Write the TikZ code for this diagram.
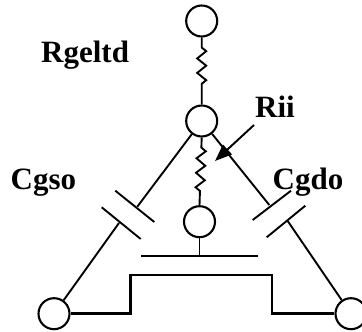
\documentclass[tikz,border=0pt]{standalone}
\usepackage{fontspec}
\setmainfont{Liberation Serif}
\usetikzlibrary{decorations.pathmorphing,arrows.meta}
\tikzset{
  term/.style={circle,draw,line width=2.1pt,minimum size=31pt,inner sep=0pt,fill=white},
  wire/.style={line width=1.9pt},
  plate/.style={line width=1.9pt},
  channel/.style={line width=2.5pt},
  res/.style={line width=1.9pt,decorate,decoration={zigzag,amplitude=4.5pt,segment length=14.5pt,pre length=10pt,post length=14pt}},
  lbl/.style={font=\bfseries\fontsize{31}{31}\selectfont,inner sep=0pt,anchor=base west}
}
\begin{document}
\begin{tikzpicture}[x=1pt,y=-1pt]
\useasboundingbox (0,0) rectangle (362,332);
\clip (0,0) rectangle (362,332);
% terminals
\node[term] (top) at (201.7,21) {};
\node[term] (mid) at (201.7,121) {};
\node[term] (gate) at (199.5,221.7) {};
\node[term] (src) at (54,313.7) {};
\node[term] (drn) at (351,313.7) {};
% plates
\coordinate (p1a) at (101.7,207.3); \coordinate (p1b) at (140.7,239);
\coordinate (p2a) at (115.3,190.7); \coordinate (p2b) at (154.3,222);
\coordinate (p3a) at (252.7,220); \coordinate (p3b) at (291,190.7);
\coordinate (p4a) at (266.7,237.3); \coordinate (p4b) at (305.3,205.7);
\coordinate (sl) at (119,223); \coordinate (su) at (137.3,206.7);
\coordinate (du) at (269.3,205); \coordinate (dl) at (287.7,221);
\draw[plate] (p1a) -- (p1b);
\draw[plate] (p2a) -- (p2b);
\draw[plate] (p3a) -- (p3b);
\draw[plate] (p4a) -- (p4b);
\draw[wire] (mid) -- (su);
\draw[wire] (sl) -- (src);
\draw[wire] (mid) -- (du);
\draw[wire] (dl) -- (drn);
% resistors
\draw[res] (top.south) -- (mid.north);
\draw[res] (mid.south) -- (gate.north);
% gate
\coordinate (gl) at (141.3,256); \coordinate (gr) at (258.3,256);
\coordinate (gs) at (199.5,256);
\draw[wire] (gl) -- (gr);
\draw[wire] (gate) -- (gs);
% channel
\coordinate (c1) at (130.7,313.7); \coordinate (c2) at (130.7,275);
\coordinate (c3) at (272,275); \coordinate (c4) at (272,313.7);
\draw[channel] (src) -- (c1) -- (c2) -- (c3) -- (c4) -- (drn);
% arrow
\coordinate (aa) at (254,125); \coordinate (ab) at (215,161);
\draw[wire,-{Triangle[length=17pt,width=13pt]}] (aa) -- (ab);
% labels
\node[lbl] (l1) at (41,62.3) {Rgeltd};
\node[lbl] (l2) at (255,117.3) {Rii};
\node[lbl] (l3) at (10.5,189.3) {Cgso};
\node[lbl] (l4) at (272.5,189.3) {Cgdo};
\end{tikzpicture}
\end{document}
